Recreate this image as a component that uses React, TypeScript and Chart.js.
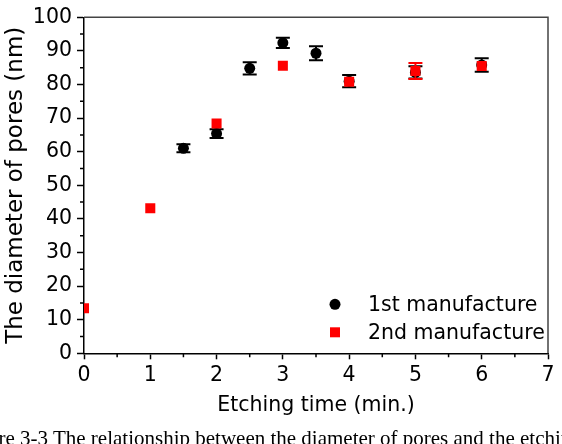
import React, { useEffect, useRef } from "react";
import { Chart, registerables } from "chart.js";

Chart.register(...registerables);

// ---- data ----
const firstTimes = [1.5, 2, 2.5, 3, 3.5, 4, 5, 6];
const firstDiameters = [61.0, 65.4, 84.8, 92.4, 89.3, 81.0, 83.6, 85.8];
const firstErrors = [1.2, 1.3, 1.8, 1.5, 2.1, 1.8, 1.8, 2.0];

const secondTimes = [0, 1, 2, 3, 4, 5, 6];
const secondDiameters = [13.4, 43.2, 68.4, 85.6, 80.8, 84.0, 85.5];
const secondErrors = [0, 0, 0, 0, 0, 2.4, 0];

const seriesLabels = ["1st manufacture", "2nd manufacture"];
const xRange = [0, 7];
const xStep = 1;
const yRange = [0, 100];
const yStep = 10;
const xTitle = "Etching time (min.)";
const yTitle = "The diameter of pores (nm)";
const caption =
  "Figure 3-3 The relationship between the diameter of pores and the etching time";

const FONT = "'DejaVu Sans', 'Liberation Sans', Arial, sans-serif";

const errorBarPlugin = {
  id: "errorBars",
  afterDatasetDraw(chart: any, args: any) {
    const ds: any = chart.data.datasets[args.index];
    const errs: number[] = ds.errors || [];
    const xs = chart.scales.x;
    const ys = chart.scales.y;
    const ctx = chart.ctx;
    const a = chart.chartArea;
    ctx.save();
    ctx.beginPath();
    ctx.rect(a.left, a.top, a.right - a.left, a.bottom - a.top);
    ctx.clip();
    ctx.strokeStyle = ds.errorColor;
    ctx.lineWidth = 2;
    ds.data.forEach((p: any, i: number) => {
      const e = errs[i];
      if (!e) return;
      const px = xs.getPixelForValue(p.x);
      const t = ys.getPixelForValue(p.y + e);
      const b = ys.getPixelForValue(p.y - e);
      ctx.beginPath();
      ctx.moveTo(px, t);
      ctx.lineTo(px, b);
      ctx.moveTo(px - 7, t);
      ctx.lineTo(px + 7, t);
      ctx.moveTo(px - 7, b);
      ctx.lineTo(px + 7, b);
      ctx.stroke();
    });
    ctx.restore();
  },
};

const framePlugin = {
  id: "frame",
  afterDraw(chart: any) {
    const ctx = chart.ctx;
    const a = chart.chartArea;
    const xs = chart.scales.x;
    const ys = chart.scales.y;
    ctx.save();
    // top and right border
    ctx.strokeStyle = "#444";
    ctx.lineWidth = 1.5;
    ctx.beginPath();
    ctx.moveTo(a.left, a.top);
    ctx.lineTo(a.right, a.top);
    ctx.lineTo(a.right, a.bottom);
    ctx.stroke();
    // minor ticks
    ctx.strokeStyle = "#000";
    ctx.lineWidth = 1.5;
    ctx.beginPath();
    for (let v = xRange[0] + xStep / 2; v < xRange[1]; v += xStep) {
      const px = xs.getPixelForValue(v);
      ctx.moveTo(px, a.bottom);
      ctx.lineTo(px, a.bottom + 4);
    }
    for (let v = yRange[0] + yStep / 2; v < yRange[1]; v += yStep) {
      const py = ys.getPixelForValue(v);
      ctx.moveTo(a.left, py);
      ctx.lineTo(a.left - 4, py);
    }
    ctx.stroke();

    // legend inside the plot
    ctx.font = `20.5px ${FONT}`;
    ctx.textBaseline = "middle";
    ctx.textAlign = "left";
    const rows = [a.bottom - 49, a.bottom - 21];
    chart.data.datasets
      .slice()
      .sort((d1: any, d2: any) => d1.legendIndex - d2.legendIndex)
      .forEach((ds: any, i: number) => {
        const y = rows[i];
        const mx = a.right - 213;
        ctx.fillStyle = ds.backgroundColor;
        ctx.beginPath();
        if (ds.pointStyle === "circle") {
          ctx.arc(mx, y, 5.5, 0, Math.PI * 2);
        } else {
          ctx.rect(mx - 5, y - 5, 10, 10);
        }
        ctx.fill();
        ctx.fillStyle = "#000";
        ctx.fillText(ds.label, a.right - 180, y + 1);
      });
    ctx.restore();
  },
};

export default function App() {
  const ref = useRef<HTMLCanvasElement | null>(null);

  useEffect(() => {
    if (!ref.current) return;
    const chart = new Chart(ref.current, {
      type: "scatter",
      data: {
        datasets: [
          {
            label: seriesLabels[0],
            data: firstTimes.map((x, i) => ({ x, y: firstDiameters[i] })),
            errors: firstErrors,
            errorColor: "#000",
            legendIndex: 0,
            order: 1,
            pointStyle: "circle",
            pointRadius: 5.5,
            pointBorderWidth: 0,
            backgroundColor: "#000",
            borderColor: "#000",
            clip: 0,
          } as any,
          {
            label: seriesLabels[1],
            data: secondTimes.map((x, i) => ({ x, y: secondDiameters[i] })),
            errors: secondErrors,
            errorColor: "#ff0000",
            legendIndex: 1,
            order: 0,
            pointStyle: "rect",
            pointRadius: 7.1,
            pointBorderWidth: 0,
            backgroundColor: "#ff0000",
            borderColor: "#ff0000",
            clip: 0,
          } as any,
        ],
      },
      options: {
        animation: false,
        responsive: false,
        events: [],
        layout: { padding: { top: 13.5, right: 14, left: 0, bottom: 0 } },
        plugins: {
          legend: { display: false },
          tooltip: { enabled: false },
        },
        scales: {
          x: {
            type: "linear",
            min: xRange[0],
            max: xRange[1],
            afterFit: (s: any) => {
              s.height = 90.7;
            },
            ticks: {
              stepSize: xStep,
              color: "#000",
              padding: 4,
              font: { family: FONT, size: 20.5 },
              maxRotation: 0,
            },
            grid: {
              display: true,
              drawOnChartArea: false,
              drawTicks: true,
              tickLength: 6,
              tickColor: "#000",
              tickWidth: 1.5,
            },
            border: { display: true, color: "#000", width: 1.5 },
            title: {
              display: true,
              text: xTitle,
              color: "#000",
              font: { family: FONT, size: 20.5 },
              padding: { top: 0, bottom: 26 },
            },
          },
          y: {
            type: "linear",
            min: yRange[0],
            max: yRange[1],
            afterFit: (s: any) => {
              s.width = 84;
            },
            ticks: {
              stepSize: yStep,
              color: "#000",
              padding: 5,
              font: { family: FONT, size: 20.5 },
            },
            grid: {
              display: true,
              drawOnChartArea: false,
              drawTicks: true,
              tickLength: 7,
              tickColor: "#000",
              tickWidth: 1.5,
            },
            border: { display: true, color: "#000", width: 1.5 },
            title: {
              display: true,
              text: yTitle,
              color: "#000",
              font: { family: FONT, size: 23 },
              padding: { top: 2, bottom: 0 },
            },
          },
        },
      },
      plugins: [errorBarPlugin, framePlugin],
    } as any);
    return () => chart.destroy();
  }, []);

  return (
    <div
      style={{
        position: "absolute",
        left: 0,
        top: 0,
        width: 562,
        height: 444,
        overflow: "hidden",
        background: "#fff",
      }}
    >
      <canvas ref={ref} width={562} height={444} style={{ display: "block" }} />
      <div
        style={{
          position: "absolute",
          left: -40,
          top: 428,
          whiteSpace: "nowrap",
          fontFamily: "'Liberation Serif', 'Times New Roman', serif",
          fontSize: 21,
          lineHeight: "21px",
          color: "#000",
        }}
      >
        {caption}
      </div>
    </div>
  );
}
